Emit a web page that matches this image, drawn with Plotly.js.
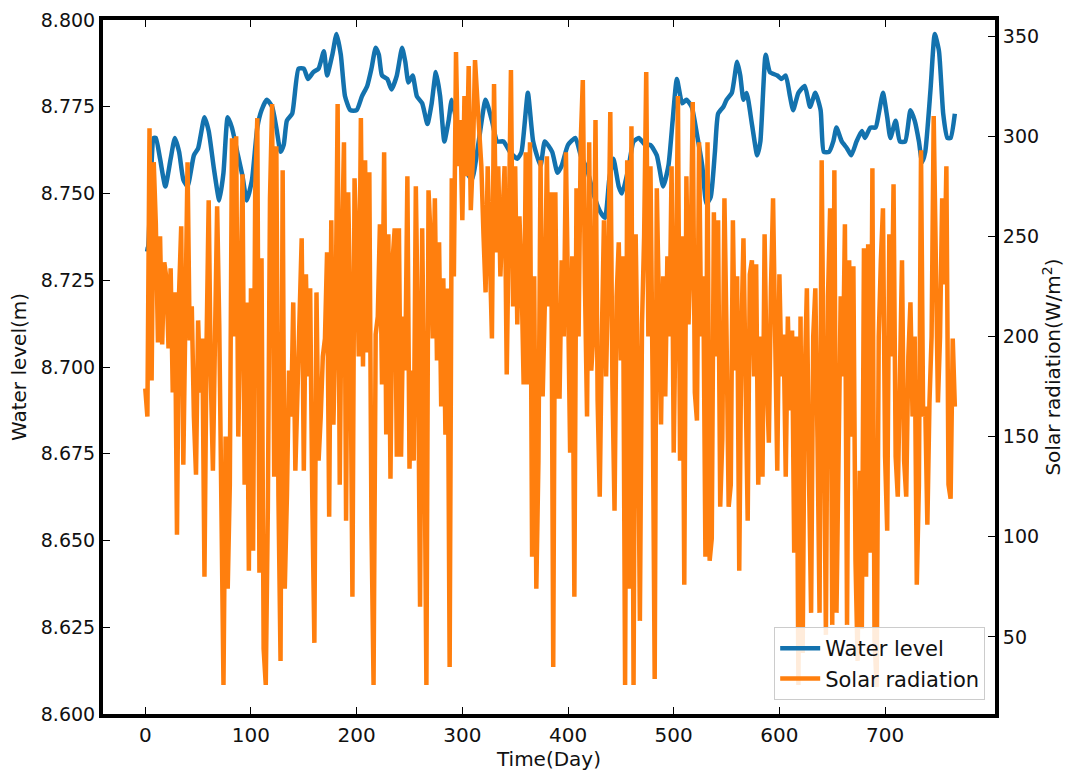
<!DOCTYPE html>
<html>
<head>
<meta charset="utf-8">
<script src="https://cdn.plot.ly/plotly-3.0.1.min.js"></script>
<style>html,body{margin:0;padding:0;background:#fff;}#chart{width:1070px;height:776px;}</style>
</head>
<body>
<div id="chart"></div>
<script>
// Water level (m) — day positions and values
const waterDays = [0,2,5,8,10,14,19,24,28,32,36,40,46,50,56,60,65,70,74,78,82,87,92,96,101,106,110,115,120,124,128,131,134,139,145,150,154,159,164,169,172,177,181,185,189,194,200,205,210,214,218,221,224,229,233,238,243,246,249,253,257,262,267,271,275,279,283,287,290,295,301,309,315,322,328,333,339,345,352,356,362,367,374,378,385,390,394,400,407,412,418,424,430,435,439,443,448,451,457,462,467,473,478,484,490,495,499,503,508,512,517,522,527,531,535,539,542,547,550,555,560,563,566,569,574,579,582,587,591,598,602,606,610,613,618,624,629,634,639,642,647,651,654,659,664,668,673,678,681,686,691,694,698,702,705,710,714,719,724,728,732,735,738,743,747,751,755,759,762,766];
const waterLevel = [8.734,8.734,8.752,8.766,8.766,8.760,8.752,8.760,8.766,8.762,8.754,8.752,8.761,8.763,8.772,8.768,8.757,8.748,8.756,8.772,8.769,8.762,8.755,8.748,8.754,8.769,8.774,8.777,8.775,8.769,8.762,8.764,8.771,8.773,8.786,8.786,8.783,8.785,8.786,8.791,8.784,8.790,8.796,8.790,8.778,8.774,8.774,8.778,8.781,8.786,8.792,8.790,8.784,8.783,8.780,8.784,8.792,8.788,8.782,8.784,8.778,8.776,8.770,8.776,8.785,8.778,8.765,8.771,8.777,8.770,8.758,8.754,8.764,8.777,8.771,8.765,8.765,8.762,8.760,8.762,8.779,8.765,8.758,8.765,8.762,8.756,8.758,8.764,8.766,8.761,8.757,8.750,8.745,8.743,8.754,8.760,8.752,8.750,8.757,8.765,8.766,8.764,8.764,8.761,8.752,8.758,8.771,8.783,8.776,8.777,8.775,8.767,8.758,8.747,8.749,8.762,8.773,8.775,8.777,8.779,8.788,8.784,8.777,8.779,8.770,8.761,8.765,8.790,8.785,8.784,8.783,8.784,8.778,8.774,8.779,8.781,8.775,8.779,8.774,8.762,8.762,8.765,8.769,8.765,8.763,8.761,8.765,8.768,8.766,8.769,8.769,8.773,8.779,8.772,8.766,8.771,8.765,8.765,8.774,8.771,8.765,8.759,8.762,8.780,8.796,8.791,8.773,8.766,8.766,8.773];

// Solar radiation (W/m2) — one value every 2 days, starting at day 0
const solarStep = 2;
const solarRadiation = [
174,160,304,178,287,256,197,250,196,237,
229,194,234,172,222,101,222,255,136,200,
287,198,215,160,131,208,172,199,80,197,
268,180,133,200,265,206,133,26,150,74,
126,299,200,300,150,230,281,126,217,83,
224,93,272,309,82,239,44,26,115,269,
316,130,295,120,38,283,74,120,183,160,
217,133,178,200,249,133,231,180,224,120,
47,222,138,160,190,199,242,110,258,156,
205,316,126,240,297,108,272,210,70,279,
244,190,309,185,288,192,282,106,26,201,
210,256,176,292,151,251,129,238,254,140,
254,140,210,183,280,134,183,138,275,200,
65,254,165,26,273,249,199,269,188,247,
165,229,151,224,35,279,230,342,285,308,
258,320,280,335,263,290,338,320,300,285,
251,222,285,240,199,326,242,285,230,260,
285,181,260,333,215,285,206,260,230,176,
292,176,297,90,230,74,138,288,170,215,
290,215,272,35,272,170,170,238,200,292,
220,142,240,70,274,200,297,328,226,160,
297,183,201,308,168,120,200,258,180,230,
312,176,113,220,247,188,240,26,288,74,
305,26,251,180,58,206,250,332,200,285,
180,29,274,206,156,230,170,240,200,285,
142,220,320,138,250,76,280,206,240,317,
172,158,297,200,230,90,297,88,99,262,
190,258,115,149,269,200,115,126,258,183,
230,83,200,249,160,108,231,238,180,236,
126,200,130,251,180,147,224,269,200,133,
231,180,201,130,210,163,203,92,200,26,
210,42,180,224,130,62,200,224,150,62,
288,130,51,220,264,56,283,62,133,220,
180,256,56,238,150,235,88,38,133,54,
244,80,246,92,284,49,25,200,238,264,
140,103,251,190,276,140,120,200,238,138,
120,190,217,160,200,76,126,293,160,165,
106,167,200,310,251,167,200,269,226,285,
126,119,199,165
];
const solarDays = solarRadiation.map((v, i) => i * solarStep);

const font = 'DejaVu Sans, Liberation Sans, sans-serif';

const traces = [
  {
    x: waterDays, y: waterLevel, name: 'Water level', type: 'scatter', mode: 'lines',
    line: {color: '#1372ae', width: 4.5, shape: 'spline', smoothing: 0.5}, xaxis: 'x', yaxis: 'y'
  },
  {
    x: solarDays, y: solarRadiation, name: 'Solar radiation', type: 'scatter', mode: 'lines',
    line: {color: '#ff7f0e', width: 4.5}, xaxis: 'x', yaxis: 'y2'
  }
];

const layout = {
  width: 1070, height: 776,
  margin: {l: 103, r: 75, t: 20, b: 62},
  paper_bgcolor: '#ffffff', plot_bgcolor: '#ffffff',
  font: {family: font, size: 19, color: '#111'},
  showlegend: true,
  legend: {
    x: 0.989, y: 0.02, xanchor: 'right', yanchor: 'bottom',
    bgcolor: 'rgba(255,255,255,0.85)', bordercolor: '#cccccc', borderwidth: 1,
    font: {family: font, size: 21, color: '#111'}, tracegroupgap: 4, itemwidth: 40
  },
  xaxis: {
    range: [-40, 804], tickvals: [0,100,200,300,400,500,600,700],
    ticks: 'inside', ticklen: 7, tickwidth: 1, tickcolor: '#000',
    showline: true, linewidth: 4, linecolor: '#000', mirror: 'ticks',
    showgrid: false, zeroline: false,
    tickfont: {family: font, size: 20, color: '#111'},
    title: {text: 'Time(Day)', font: {family: font, size: 20, color: '#111'}, standoff: 6}
  },
  yaxis: {
    range: [8.6, 8.8], tickvals: [8.6,8.625,8.65,8.675,8.7,8.725,8.75,8.775,8.8],
    tickformat: '.3f',
    ticks: 'inside', ticklen: 7, tickwidth: 1, tickcolor: '#000',
    showline: true, linewidth: 4, linecolor: '#000',
    showgrid: false, zeroline: false,
    tickfont: {family: font, size: 19, color: '#111'},
    title: {text: 'Water level(m)', font: {family: font, size: 20, color: '#111'}, standoff: 10}
  },
  yaxis2: {
    overlaying: 'y', side: 'right',
    range: [11.5, 358], tickvals: [50,100,150,200,250,300,350],
    ticks: 'inside', ticklen: 7, tickwidth: 1, tickcolor: '#000',
    showline: true, linewidth: 4, linecolor: '#000',
    showgrid: false, zeroline: false,
    tickfont: {family: font, size: 19, color: '#111'},
    title: {text: 'Solar radiation(W/m<sup>2</sup>)', font: {family: font, size: 20, color: '#111'}, standoff: 8}
  }
};

Plotly.newPlot('chart', traces, layout, {displayModeBar: false, staticPlot: true});
</script>
</body>
</html>
